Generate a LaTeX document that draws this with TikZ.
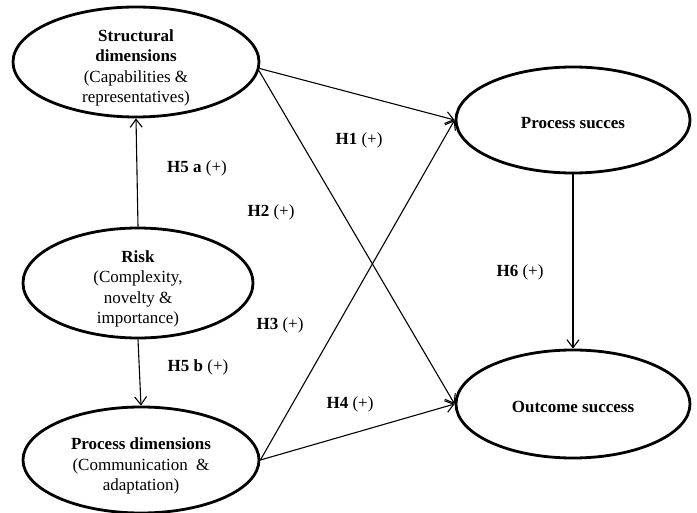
\documentclass[tikz,border=0pt]{standalone}
\usepackage{fontspec}
\setmainfont{Liberation Serif}
\usetikzlibrary{shapes.geometric,arrows.meta}

\begin{document}
\begin{tikzpicture}[x=1pt, y=-1pt,
    construct/.style={draw=borderColour, ellipse, line width=2.8pt, inner sep=0pt},
    caption/.style={align=center, inner sep=0pt, yshift=-6pt,
        font=\fontsize{17}{20.5}\selectfont},
    hypo/.style={font=\fontsize{17}{20.5}\selectfont, inner sep=1pt},
    link/.style={->, line width=1.1pt, draw=borderColour},
    >={Straight Barb[length=8pt,width=12pt]}]
    % Define colours
    \definecolor{borderColour}{HTML}{000000}

    % Fix picture size
    \useasboundingbox (0,0) rectangle (697,513);

    % Draw constructs
    \node[construct, minimum width=246pt, minimum height=110pt] (struct) at (136,62) {};
    \node[construct, minimum width=230pt, minimum height=110pt] (risk) at (138,283) {};
    \node[construct, minimum width=236pt, minimum height=106pt] (procDim) at (141,460) {};
    \node[construct, minimum width=234pt, minimum height=106pt] (procSucc) at (573,120) {};
    \node[construct, minimum width=234pt, minimum height=108pt] (outSucc) at (573,404) {};

    % Write construct names
    \node[caption] (structText) at (struct)
        {\textbf{Structural}\\\textbf{dimensions}\\(Capabilities \&\\representatives)};
    \node[caption] (riskText) at (risk)
        {\textbf{Risk}\\(Complexity,\\novelty \&\\importance)};
    \node[caption] (procDimText) at (procDim)
        {\textbf{Process dimensions}\\(Communication \ \&\\adaptation)};
    \node[caption, yshift=3pt] (procSuccText) at (procSucc) {\textbf{Process succes}};
    \node[caption, yshift=3pt] (outSuccText) at (outSucc) {\textbf{Outcome success}};

    % Draw hypothesised paths
    \draw[link] (risk.north) -- (struct.south);
    \draw[link] (risk.south) -- (procDim.north);
    \draw[link] (struct.-3) -- (procSucc.west);
    \draw[link] (struct.-4) -- (outSucc.west);
    \draw[link] (procDim.east) -- (procSucc.west);
    \draw[link] (procDim.east) -- (outSucc.west);
    \draw[link] (procSucc.south) -- (outSucc.north);

    % Label hypotheses
    \node[hypo] (h1) at (359,140) {\textbf{H1} (+)};
    \node[hypo] (h2) at (271,212) {\textbf{H2} (+)};
    \node[hypo] (h3) at (280,325) {\textbf{H3} (+)};
    \node[hypo] (h4) at (350,404) {\textbf{H4} (+)};
    \node[hypo] (h5a) at (197,168) {\textbf{H5 a} (+)};
    \node[hypo] (h5b) at (198,367) {\textbf{H5 b} (+)};
    \node[hypo] (h6) at (520,272) {\textbf{H6} (+)};

\end{tikzpicture}
\end{document}
